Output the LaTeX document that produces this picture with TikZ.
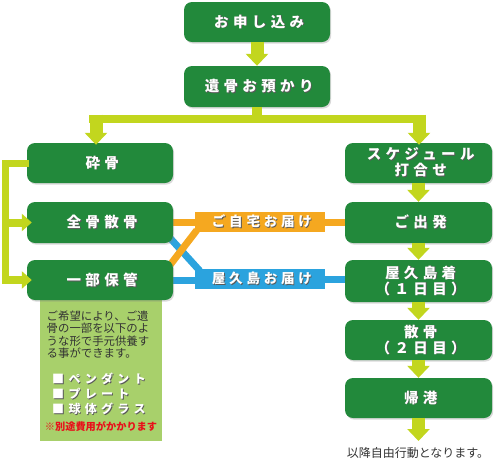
\documentclass[tikz,border=0pt]{standalone}
\usepackage{fontspec}
\setmainfont{Noto Sans CJK JP}
\newfontfamily\jpsp{Noto Sans CJK JP}[LetterSpace=30]
\newfontfamily\jpsm{Noto Sans CJK JP}[LetterSpace=28]
\newfontfamily\jpit{Noto Sans CJK JP}[LetterSpace=36]
\usetikzlibrary{arrows.meta,shadows,backgrounds,calc}
\definecolor{gr}{HTML}{22893B}
\definecolor{ac}{HTML}{C2D61E}
\definecolor{lg}{HTML}{A8D06B}
\definecolor{oc}{HTML}{F5A820}
\definecolor{bc}{HTML}{2BA3DE}
\definecolor{tx}{HTML}{333333}
\definecolor{rd}{HTML}{E8101A}
\newcommand\shd[1]{\makebox[0pt][l]{\kern0.9pt\raisebox{-0.9pt}{\textcolor{black!65}{#1}}}#1}
\newcommand\bt[1]{\shd{#1}\kern-0.30em}
\newcommand\lt[1]{\shd{#1}\kern-0.28em}
\tikzset{
  gbox/.style={fill=gr, rounded corners=8pt, minimum width=146pt, minimum height=40pt,
    text=white, font=\jpsp\bfseries\fontsize{14.5}{17.5}\selectfont, align=center, inner sep=0pt,
    drop shadow={shadow xshift=1.2pt, shadow yshift=-1.6pt, opacity=0.3}},
  rbox/.style={gbox, minimum width=147pt},
  lbox/.style={minimum width=130pt, minimum height=20pt, inner sep=0pt, text=white,
    font=\jpsm\bfseries\fontsize{13.5}{15}\selectfont},
  arw/.style={draw=ac, line width=13pt, -{Triangle[width=22pt,length=12pt]}},
  sarw/.style={draw=ac, line width=8pt, -{Triangle[width=17pt,length=10pt]}},
  barline/.style={draw=ac, line width=8pt},
  oline/.style={draw=oc, line width=7pt},
  bline/.style={draw=bc, line width=7pt},
}
\begin{document}
\begin{tikzpicture}[x=1pt,y=-1pt]
\useasboundingbox (0,0) rectangle (496,459);
% boxes
\node[gbox] (moushikomi) at (257,22) {\bt{お申し込み}};
\node[gbox, minimum height=41pt] (azukari) at (257,86.5) {\bt{遺骨お預かり}};
\node[gbox] (saikotsu) at (100,163) {\bt{砕骨}};
\node[gbox, minimum height=41pt] (zenkotsu) at (100,222.5) {\bt{全骨散骨}};
\node[gbox] (ichibu) at (100,280) {\bt{一部保管}};
\node[rbox] (sched) at (418.5,163) {\bt{スケジュール}\\[-1.5pt]\bt{打合せ}};
\node[rbox, minimum height=41pt] (shuppatsu) at (418.5,222.5) {\bt{ご出発}};
\node[rbox, minimum height=42pt] (chaku) at (418.5,281) {\bt{屋久島着}\\[-1.5pt]\bt{（１日目）}};
\node[rbox] (sankotsu) at (418.5,340) {\bt{散骨}\\[-1.5pt]\bt{（２日目）}};
\node[rbox] (kikou) at (418.5,398) {\bt{帰港}};
\node[lbox, fill=oc] (home) at (260,222) {\lt{ご自宅お届け}};
\node[lbox, fill=bc] (yaku) at (260,279) {\lt{屋久島お届け}};
% info box and coloured connectors
\begin{pgfonlayer}{background}
\node[fill=lg, minimum width=122pt, minimum height=146pt, inner sep=0pt] (info) at (101,368) {};
\draw[bline] ([xshift=-3pt,yshift=5pt]zenkotsu.south east) -- ([xshift=5pt,yshift=-2pt]yaku.north west);
\draw[bline] (ichibu.east) -- (ichibu.east -| yaku.west);
\draw[bline] (yaku.east) -- (yaku.east -| chaku.west);
\draw[oline] (zenkotsu.east) -- (zenkotsu.east -| home.west);
\draw[oline] (home.east) -- (home.east -| shuppatsu.west);
\draw[oline] ([xshift=-3pt,yshift=-5pt]ichibu.north east) -- ([xshift=2pt,yshift=2pt]home.south west);
\end{pgfonlayer}
\node[anchor=north west, inner sep=0pt, align=left, text=tx, font=\fontsize{11.4}{12.4}\selectfont] (infotext) at (46.5,310.5)
  {ご希望により、ご遺\\骨の一部を以下のよ\\うな形で手元供養す\\る事ができます。};
\node[anchor=north west, inner sep=0pt, align=left, text=white, font=\jpit\bfseries\fontsize{12}{15}\selectfont] (items) at (52,372.5)
  {\shd{■ペンダント}\\\shd{■プレート}\\\shd{■球体グラス}};
\node[text=rd, font=\bfseries\fontsize{10.2}{12}\selectfont, inner sep=0pt] (note) at (101,427) {※別途費用がかかります};
\node[text=tx, font=\fontsize{12}{13}\selectfont, inner sep=0pt] (endtext) at (418,453) {以降自由行動となります。};
% main arrows
\draw[arw] (moushikomi.south) -- (azukari.north);
\coordinate (bl) at (96,118.5);
\coordinate (br) at (419,118.5);
\draw[draw=ac, line width=10pt] (azukari.south) -- (azukari.south |- bl);
\draw[barline] ([xshift=-7pt]bl) -- ([xshift=6.5pt]br);
\draw[arw] ([yshift=4pt]bl) -- ([yshift=-2pt]bl |- saikotsu.north);
\draw[arw] ([yshift=4pt]br) -- ([yshift=-2pt]br |- sched.north);
\draw[arw] (sched.south) -- (shuppatsu.north);
\draw[arw] (shuppatsu.south) -- (chaku.north);
\draw[arw] (chaku.south) -- (sankotsu.north);
\draw[arw] (sankotsu.south) -- (kikou.north);
\coordinate (kend) at (418.5,441);
\draw[arw] (kikou.south) -- (kend);
% left bracket
\coordinate (lx) at (5,0);
\draw[barline, line width=7pt] ([xshift=2pt]saikotsu.west) -| ([yshift=-4pt]ichibu.west -| lx);
\draw[sarw] (zenkotsu.west -| lx) -- ([xshift=5pt]zenkotsu.west);
\draw[sarw] (ichibu.west -| lx) -- ([xshift=5pt]ichibu.west);
\end{tikzpicture}
\end{document}
